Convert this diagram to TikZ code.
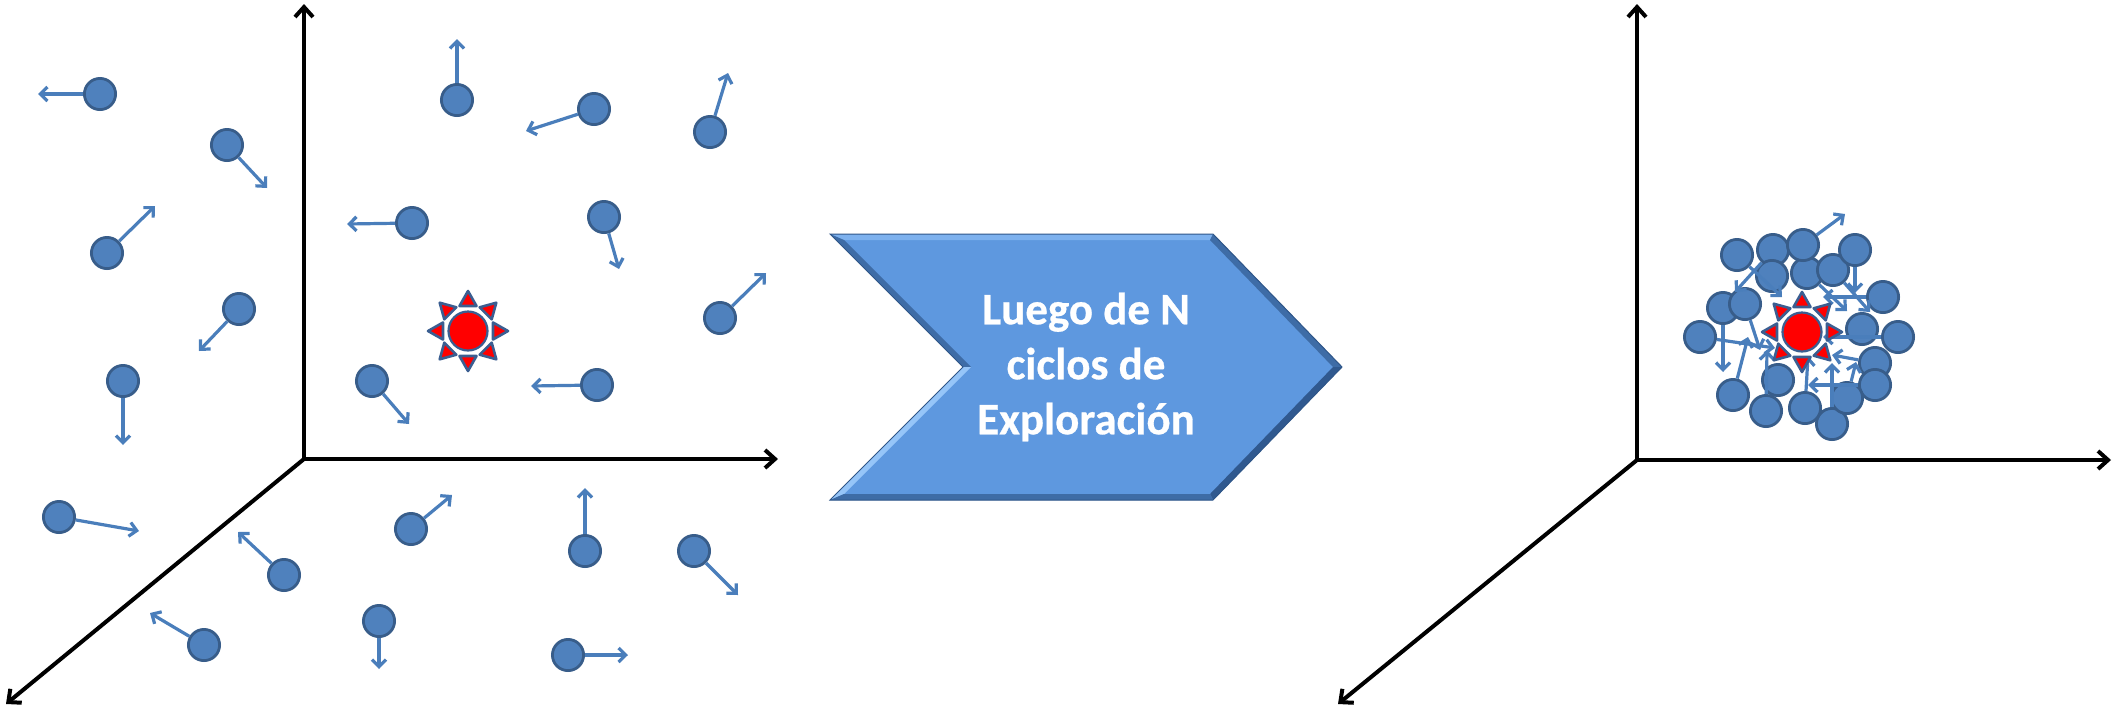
\documentclass[tikz,border=0pt]{standalone}
\usepackage{fontspec}
\newfontfamily\carl{Carlito}[BoldFeatures={FakeBold=0.6}]
\usetikzlibrary{arrows.meta}
\definecolor{pfill}{HTML}{4F81BD}
\definecolor{pline}{HTML}{385D8A}
\definecolor{parrc}{HTML}{4A7EBB}
\definecolor{sunline}{HTML}{3B5E91}
\definecolor{chev}{HTML}{5E98DF}
\definecolor{chevlight}{HTML}{7DB1EE}
\definecolor{chevhi}{HTML}{96C5F8}
\definecolor{chevdark}{HTML}{3E6CA6}
\definecolor{chevdarker}{HTML}{30598F}
\definecolor{chevedge}{HTML}{2F5688}
\begin{document}
\begin{tikzpicture}[x=0.5pt,y=-0.5pt,
  particle/.style={circle,fill=pfill,draw=pline,line width=1.4pt,minimum size=15.6pt,inner sep=0pt},
  parr/.style={draw=parrc,line width=1.6pt,-{Straight Barb[length=3.6pt,width=7pt]}},
  axis/.style={line width=2pt,-{Straight Barb[length=5pt,width=9pt]}},
  sunc/.style={circle,fill=red,draw=sunline,line width=1.1pt,minimum size=19.5pt,inner sep=0pt},
  ray/.style={fill=red,draw=sunline,line width=1.3pt,line join=round}]
\useasboundingbox (0,0) rectangle (2120,708);
% ---------- left axes
\coordinate (O1) at (304,459);
\coordinate (Y1) at (304,4);
\coordinate (X1) at (778,459);
\coordinate (Z1) at (6,704);
\draw[axis] (O1) -- (Y1);
\draw[axis] (O1) -- (X1);
\draw[axis] (O1) -- (Z1);
% ---------- right axes
\coordinate (O2) at (1637,460);
\coordinate (Y2) at (1637,4);
\coordinate (X2) at (2111,460);
\coordinate (Z2) at (1338,704);
\draw[axis] (O2) -- (Y2);
\draw[axis] (O2) -- (X2);
\draw[axis] (O2) -- (Z2);
% ---------- left particles
\foreach \n/\x/\y/\ex/\ey in {
  1/100/94/38/94, 2/227/145/267/188, 3/107/253/155/206, 4/239/309/199/351,
  5/123/381/123/445, 6/59/517/139/531, 7/457/100/457/39, 8/594/109/526/131,
  9/710/132/728/73, 10/412/223/347/224, 11/604/217/619/269, 12/720/318/766/273,
  14/372/381/409/424, 15/597/385/531/386, 16/411/529/452/495, 17/585/551/585/488,
  18/694/551/738/595, 19/284/575/238/532, 20/204/645/150/613, 21/379/621/379/669,
  22/568/655/628/655}{
  \node[particle] (p\n) at (\x,\y) {};
  \coordinate (p\n e) at (\ex,\ey);
  \draw[parr] (p\n) -- (p\n e);
}
% ---------- right cluster circles
\foreach \n/\x/\y in {
  b/1773/250, e/1772/276, a/1737/255, f/1807/273, c/1803/245, g/1833/270,
  d/1855/250, h/1883/297, i/1723/308, j/1745/304, k/1700/337, l/1862/329,
  m/1898/337, n/1875/363, o/1875/385, p/1778/380, q/1733/395, r/1766/411,
  u/1832/424, t/1847/398, s/1805/408}{
  \node[particle] (c\n) at (\x,\y) {};
}
% ---------- right cluster arrows
\foreach \n/\ex/\ey in {
  c/1845/214, a/1782/297, b/1735/292, d/1855/293, f/1847/311, h/1823/297,
  g/1870/312, i/1723/372, k/1775/348, j/1760/350, q/1748/337, r/1767/350,
  m/1823/337, n/1832/355, u/1832/363, t/1856/362, o/1808/385, s/1808/356}{
  \coordinate (c\n e) at (\ex,\ey);
  \draw[parr] (c\n) -- (c\n e);
}
% ---------- suns
\foreach \sx/\sy/\sn in {468/331/sunA, 1802/332/sunB}{
  \foreach \a in {0,45,...,315}{
    \draw[ray,shift={(\sx,\sy)},rotate=\a] (25,-8.5) -- (40,0) -- (25,8.5) -- cycle;
  }
  \node[sunc] (\sn) at (\sx,\sy) {};
}
% ---------- chevron
\fill[chev] (830,234) -- (1213,234) -- (1342,367) -- (1213,500) -- (830,500) -- (963,367) -- cycle;
\fill[chevlight] (830,234) -- (1213,234) -- (1210,240) -- (844,240) -- cycle;
\fill[chevdark] (830,234) -- (844,240) -- (971,367) -- (963,367) -- cycle;
\fill[chevhi] (963,367) -- (971,367) -- (844,494) -- (830,500) -- cycle;
\fill[chevdark] (1213,234) -- (1342,367) -- (1333,367) -- (1210,240) -- cycle;
\fill[chevdarker] (1342,367) -- (1213,500) -- (1210,494) -- (1333,367) -- cycle;
\fill[chevdark] (1213,500) -- (830,500) -- (844,494) -- (1210,494) -- cycle;
\draw[chevedge,line width=0.5pt,line join=miter] (830,234) -- (1213,234) -- (1342,367) -- (1213,500) -- (830,500) -- (963,367) -- cycle;
\node[text=white,align=center,font=\carl\bfseries\fontsize{22.5}{27.5}\selectfont] (lbl) at (1086,367) {Luego de N\\ciclos de\\Exploración};
\end{tikzpicture}
\end{document}
